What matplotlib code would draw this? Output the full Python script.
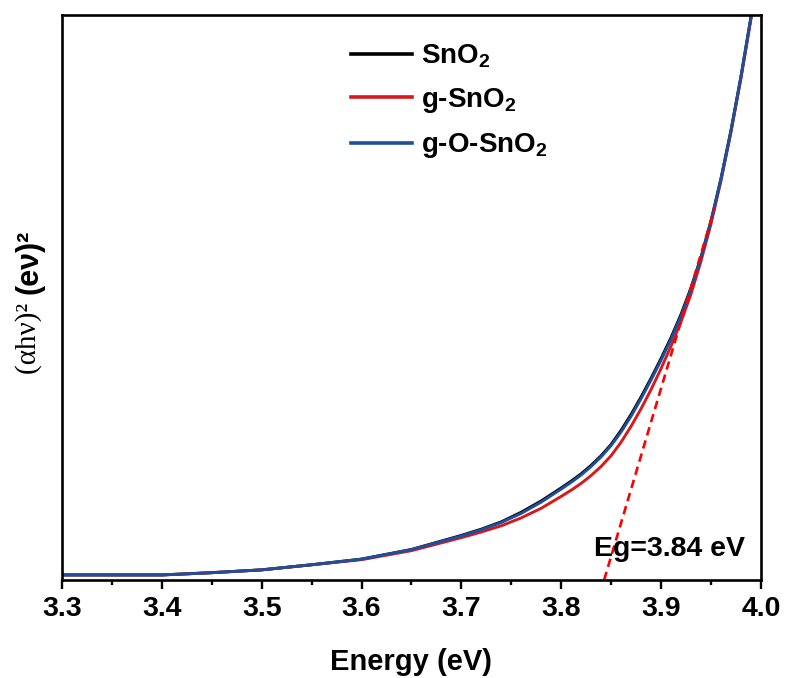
import numpy as np
import matplotlib
matplotlib.use("Agg")
import matplotlib.pyplot as plt
from matplotlib.ticker import MultipleLocator

plt.rcParams['mathtext.fontset'] = 'custom'
plt.rcParams['mathtext.rm'] = 'Liberation Sans:bold'

# data
energy = [3.30, 3.35, 3.40, 3.45, 3.50, 3.55, 3.60, 3.65, 3.70, 3.72, 3.74, 3.76,
          3.78, 3.80, 3.81, 3.82, 3.83, 3.84, 3.85, 3.86, 3.87, 3.88, 3.89, 3.90,
          3.91, 3.92, 3.93, 3.94, 3.95, 3.96, 3.97, 3.98, 3.99, 4.00]
sno2 = [0.9, 0.9, 0.9, 1.3, 1.8, 2.7, 3.7, 5.4, 7.9, 9.0, 10.3, 12.0,
        14.0, 16.3, 17.5, 18.8, 20.3, 22.0, 24.0, 26.5, 29.3, 32.4, 35.7, 39.2,
        42.9, 47.0, 51.7, 57.1, 63.5, 71.0, 79.5, 89.0, 99.5, 111.0]
g_sno2 = [0.9, 0.9, 0.9, 1.3, 1.8, 2.7, 3.6, 5.2, 7.5, 8.5, 9.6, 11.0,
          12.7, 14.8, 15.9, 17.1, 18.5, 20.1, 22.0, 24.4, 27.2, 30.3, 33.7, 37.4,
          41.4, 45.7, 50.6, 56.4, 63.0, 70.6, 79.2, 88.7, 99.2, 111.0]
g_o_sno2 = [0.9, 0.9, 0.9, 1.3, 1.8, 2.7, 3.7, 5.4, 7.8, 8.9, 10.2, 11.8,
            13.8, 16.1, 17.3, 18.6, 20.1, 21.8, 23.8, 26.2, 29.0, 32.1, 35.4, 38.9,
            42.6, 46.7, 51.5, 57.0, 63.4, 70.9, 79.4, 89.0, 99.5, 111.0]

# tangent used for the band gap
fit_x = [3.843, 3.954]
fit_y = [0.0, 66.0]
eg = 3.84

fig = plt.figure(figsize=(7.86, 6.78), dpi=100)
ax = fig.add_axes([0.0789, 0.1445, 0.8891, 0.8334])

ax.plot(energy, sno2, color='black', lw=2.1, label='SnO$_2$')
ax.plot(energy, g_sno2, color='#d7191c', lw=2.1, label='g-SnO$_2$')
ax.plot(energy, g_o_sno2, color='#1f4e9a', lw=2.1, label='g-O-SnO$_2$')
ax.plot(fit_x, fit_y, color='#ff0000', lw=1.9, ls=(0, (3.2, 2.0)))

ax.set_xlim(3.3, 4.0)
ax.set_ylim(0, 100)
ax.xaxis.set_major_locator(MultipleLocator(0.1))
ax.xaxis.set_minor_locator(MultipleLocator(0.05))
ax.set_yticks([])
ax.tick_params(axis='x', which='major', direction='out', length=6.5, width=1.7,
               labelsize=20.5, pad=5)
ax.tick_params(axis='x', which='minor', direction='out', length=3.5, width=1.7)
for lab in ax.get_xticklabels():
    lab.set_fontweight('bold')
    lab.set_fontfamily('Liberation Sans')
for s in ax.spines.values():
    s.set_linewidth(1.9)

ax.set_xlabel('Energy (eV)', fontsize=21, fontweight='bold',
              fontfamily='Liberation Sans', labelpad=19)

# y label: serif part plus bold sans part
fig.text(0.036, 1 - 374 / 678, '(αhν)² ', rotation=90, ha='center', va='bottom',
         fontsize=21, fontfamily='Liberation Serif')
fig.text(0.038, 1 - 294 / 678, '(eν)²', rotation=90, ha='center', va='bottom',
         fontsize=22, fontweight='bold', fontfamily='Liberation Sans')

ax.text(3.908, 5.5, 'Eg=%.2f eV' % eg, ha='center', va='center', fontsize=20.5,
        fontweight='bold', fontfamily='Liberation Sans')

leg = ax.legend(loc='upper left', bbox_to_anchor=(0.378, 0.996), frameon=False,
                handlelength=2.2, handletextpad=0.3, labelspacing=0.58,
                prop={'family': 'Liberation Sans', 'weight': 'bold', 'size': 20})
for ln in leg.get_lines():
    ln.set_linewidth(2.6)

fig.savefig('out.png', dpi=100)
